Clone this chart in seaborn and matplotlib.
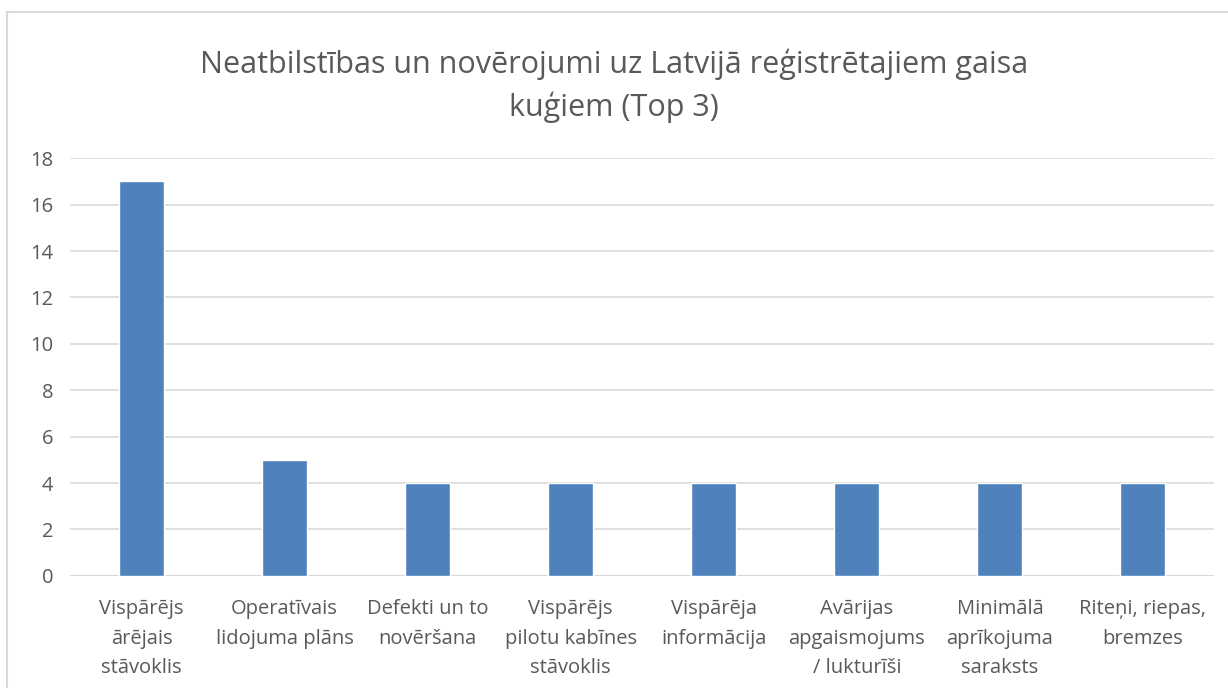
import pandas as pd
import seaborn as sns
import matplotlib.pyplot as plt
from matplotlib.patches import Rectangle

# Categories (wrapped as in the original) and counts
categories = [
    'Vispārējs\nārējais\nstāvoklis',
    'Operatīvais\nlidojuma plāns',
    'Defekti un to\nnovēršana',
    'Vispārējs\npilotu kabīnes\nstāvoklis',
    'Vispārēja\ninformācija',
    'Avārijas\napgaismojums\n/ lukturīši',
    'Minimālā\naprīkojuma\nsaraksts',
    'Riteņi, riepas,\nbremzes',
]
counts = [17, 5, 4, 4, 4, 4, 4, 4]
y_ticks = [0, 2, 4, 6, 8, 10, 12, 14, 16, 18]

title = 'Neatbilstības un novērojumi uz Latvijā reģistrētajiem gaisa\nkuģiem (Top 3)'

text_color = '#595959'
bar_color = '#4F81BD'
grid_color = '#D9D9D9'

sns.set_style('white')
plt.rcParams['font.family'] = ['Open Sans', 'DejaVu Sans']

df = pd.DataFrame({'category': categories, 'count': counts})

fig = plt.figure(figsize=(12.28, 6.88), dpi=100)
ax = fig.add_axes([0.057, 0.163, 0.932, 0.607])

# chart border (left and top edges visible in the crop)
fig.patches.append(Rectangle((7 / 1228, -0.1), 1.2, (688 - 12) / 688 + 0.1,
                             transform=fig.transFigure, fill=False,
                             edgecolor='#D9D9D9', linewidth=1.5))

sns.barplot(data=df, x='category', y='count', color=bar_color,
            width=0.315, saturation=1, ax=ax, zorder=3)

ax.set_ylim(0, 18)
ax.set_xlim(-0.5, len(categories) - 0.5)
ax.set_yticks(y_ticks)
ax.yaxis.grid(True, color=grid_color, linewidth=1.2, zorder=0)
ax.set_axisbelow(True)
for side in ['top', 'right', 'left', 'bottom']:
    ax.spines[side].set_visible(False)
ax.axhline(0, color=grid_color, linewidth=1.5, zorder=1)

ax.tick_params(axis='both', length=0, colors=text_color, labelsize=14.5)
ax.tick_params(axis='x', pad=17)
ax.tick_params(axis='y', pad=12)
for lbl in ax.get_xticklabels():
    lbl.set_linespacing(1.62)
ax.set_xlabel('')
ax.set_ylabel('')

fig.suptitle(title, y=0.93, va='top', fontsize=22, color=text_color,
             linespacing=1.5)

fig.savefig('out.png', dpi=100, facecolor='white')
